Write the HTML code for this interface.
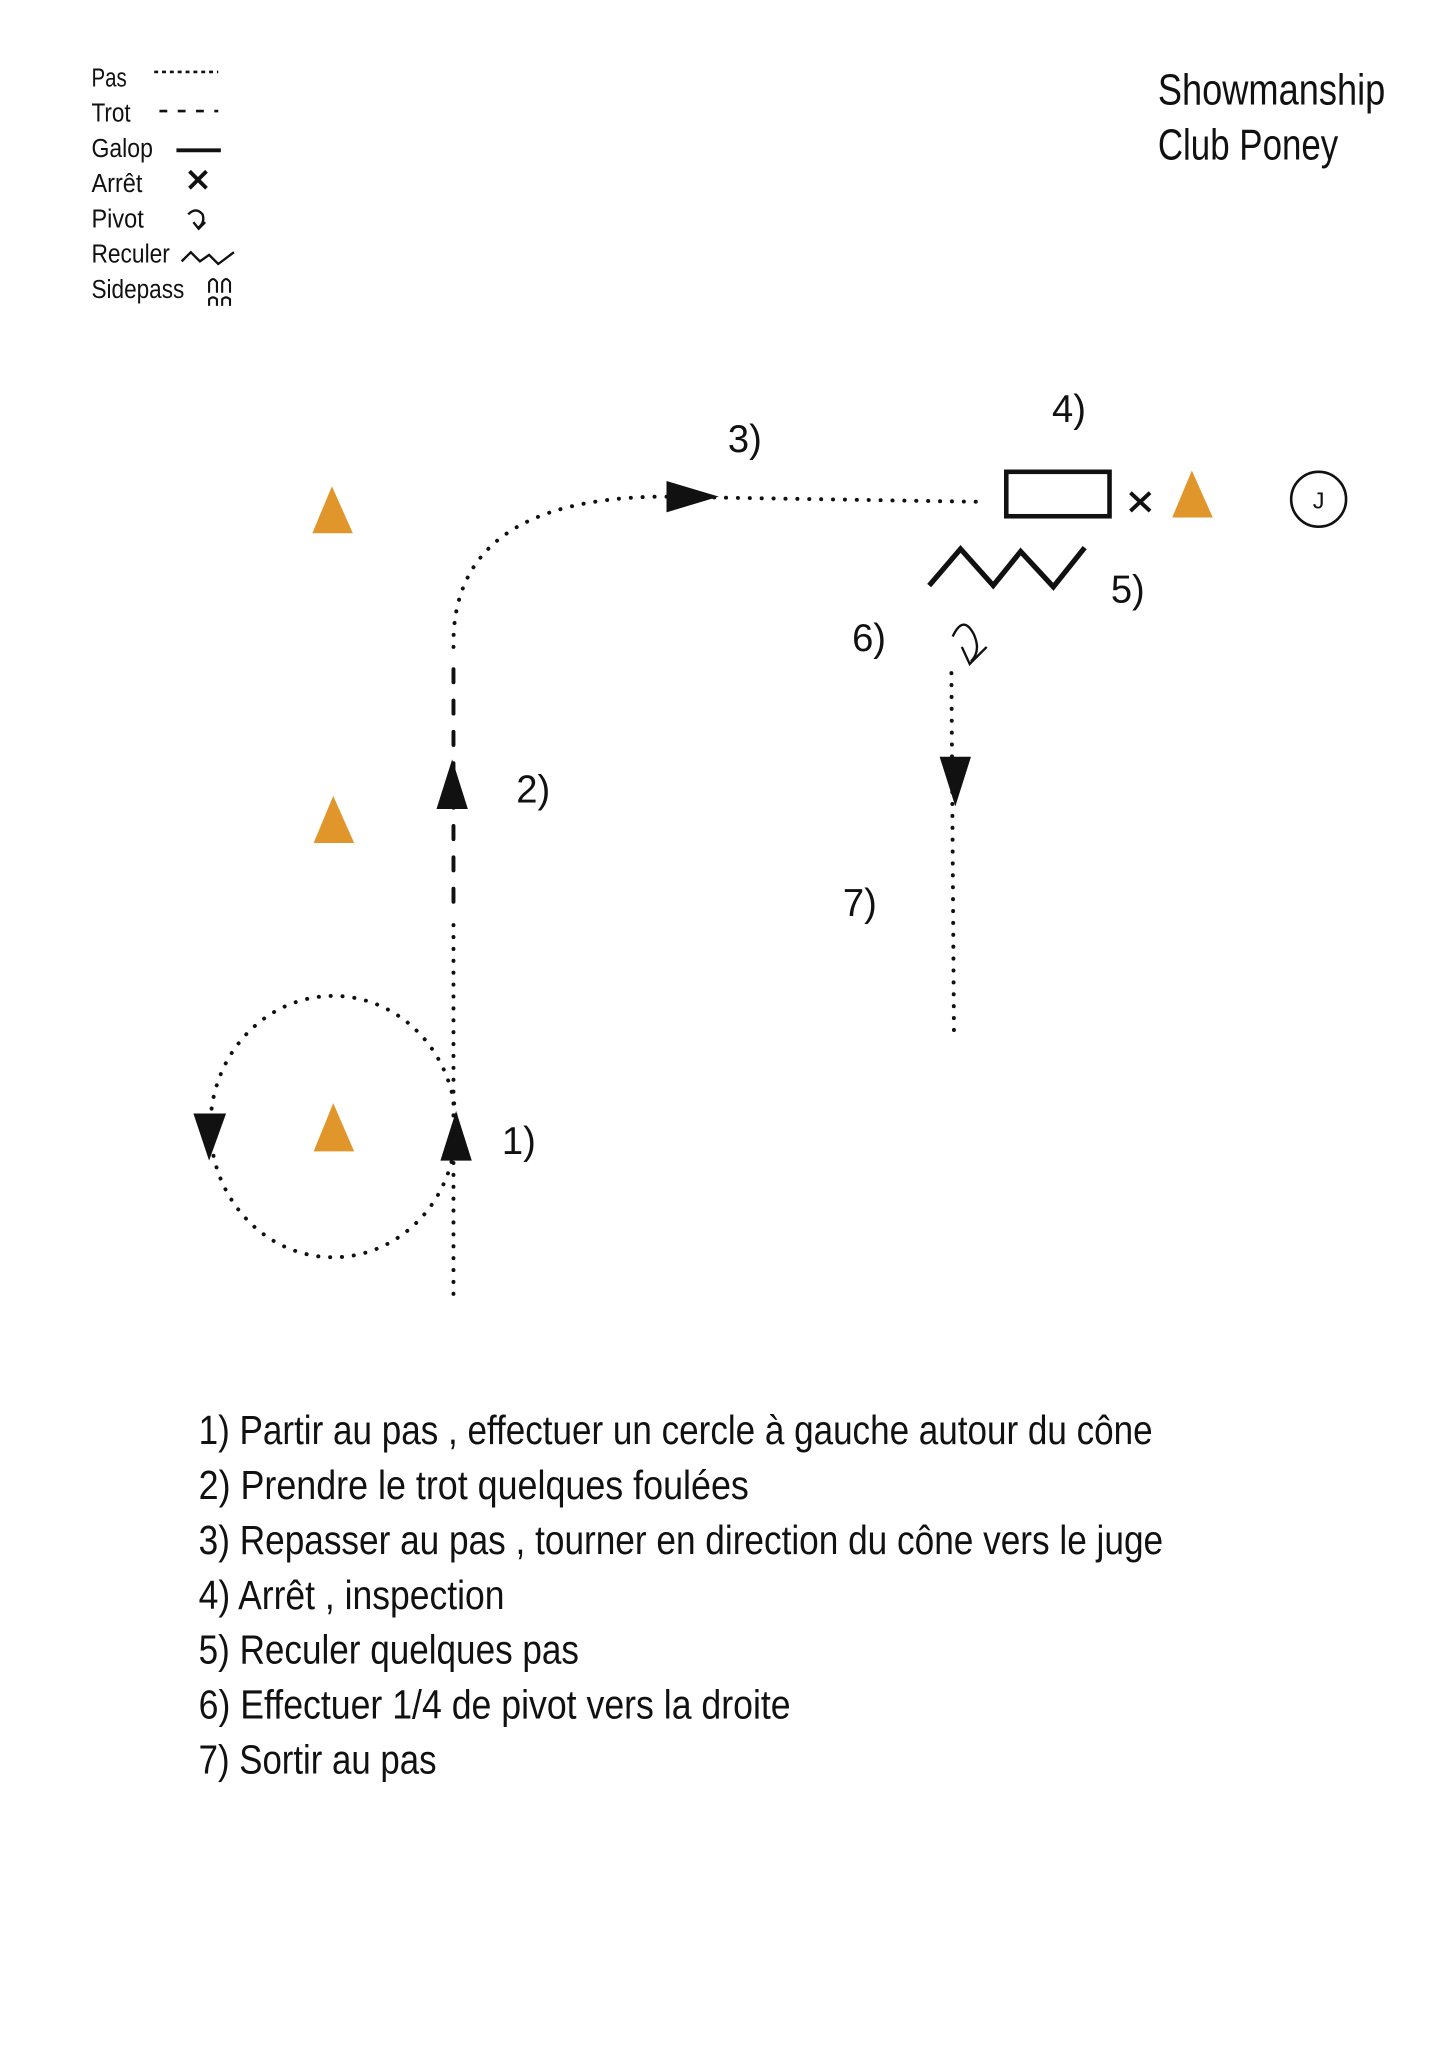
<!DOCTYPE html>
<html><head><meta charset="utf-8"><style>
html,body{margin:0;padding:0;background:#fff;}
svg{display:block;}
text{font-family:"Liberation Sans Narrow","Liberation Sans",sans-serif;fill:#111;}
</style></head><body>
<svg width="1448" height="2048" viewBox="0 0 1108 1567" preserveAspectRatio="none" xmlns="http://www.w3.org/2000/svg">
<rect width="1108" height="1567" fill="#fff"/>
<!-- Legend -->
<g font-size="20">
<text x="70" y="66" textLength="27" lengthAdjust="spacingAndGlyphs">Pas</text>
<text x="70" y="93" textLength="30" lengthAdjust="spacingAndGlyphs">Trot</text>
<text x="70" y="120" textLength="47" lengthAdjust="spacingAndGlyphs">Galop</text>
<text x="70" y="147" textLength="39" lengthAdjust="spacingAndGlyphs">Arrêt</text>
<text x="70" y="174" textLength="40" lengthAdjust="spacingAndGlyphs">Pivot</text>
<text x="70" y="201" textLength="60" lengthAdjust="spacingAndGlyphs">Reculer</text>
<text x="70" y="228" textLength="71" lengthAdjust="spacingAndGlyphs">Sidepass</text>
</g>
<line x1="118" y1="55" x2="167" y2="55" stroke="#111" stroke-width="2" stroke-dasharray="3,3"/>
<line x1="122" y1="85" x2="167" y2="85" stroke="#111" stroke-width="2" stroke-dasharray="6,8"/>
<line x1="135" y1="115" x2="169" y2="115" stroke="#111" stroke-width="3"/>
<path d="M145 131 L158 144 M158 131 L145 144" stroke="#111" stroke-width="3"/>
<path d="M144 164 Q150 158 155 164 Q157 170 152 174 M148 170 L152 175 L157 170" stroke="#111" stroke-width="1.8" fill="none"/>
<path d="M139 200 L146 193 L153 200 L160 195 L167 202 L179 193" stroke="#111" stroke-width="1.8" fill="none"/>
<path d="M160 224 L160 216 Q163 211 166 216 L166 224 M170 224 L170 216 Q173 211 176 216 L176 224 M160 234 L160 229 Q163 226 166 229 L166 234 M170 234 L170 229 Q173 226 176 229 L176 234" stroke="#111" stroke-width="1.6" fill="none"/>
<!-- Title -->
<text x="886" y="80" font-size="33" textLength="174" lengthAdjust="spacingAndGlyphs">Showmanship</text>
<text x="886" y="122" font-size="33" textLength="138" lengthAdjust="spacingAndGlyphs">Club Poney</text>
<!-- Cones -->
<g fill="#E0962A">
<polygon points="254,372 239,408 270,408"/>
<polygon points="255,609 240,645 271,645"/>
<polygon points="255,844 240,881 271,881"/>
<polygon points="912,360 897,396 928,396"/>
</g>
<!-- J -->
<circle cx="1009" cy="382" r="21" fill="none" stroke="#111" stroke-width="2"/>
<text x="1009" y="389" font-size="18" text-anchor="middle">J</text>
<!-- rectangle, X -->
<rect x="770" y="361" width="79" height="34" fill="none" stroke="#111" stroke-width="3.5"/>
<path d="M865 377 L880 391 M880 377 L865 391" stroke="#111" stroke-width="3"/>
<!-- zigzag -->
<path d="M711 448 L735 420 L760 448 L781 422 L806 449 L830 419" stroke="#111" stroke-width="4" fill="none"/>
<!-- paths -->
<g stroke="#111" stroke-width="3" fill="none" stroke-linecap="round">
<line x1="347" y1="990" x2="347" y2="700" stroke-dasharray="0.1,9"/>
<line x1="347" y1="690" x2="347" y2="505" stroke-dasharray="10,14"/>
<path d="M347 495 Q345 382 505 380 L752 384" stroke-dasharray="0.1,9"/>
<ellipse cx="255" cy="862" rx="94" ry="100" stroke-dasharray="0.1,9"/>
<line x1="728" y1="515" x2="730" y2="795" stroke-dasharray="0.1,9"/>
</g>
<g fill="#111">
<polygon points="349,850 337,888 361,888"/>
<polygon points="346,581 334,619 358,619"/>
<polygon points="160,888 148,852 173,852"/>
<polygon points="550,380 510,368 510,392"/>
<polygon points="731,617 719,579 743,579"/>
</g>
<path d="M729 487 Q737 470 745 485 Q751 498 743 506 M736 495 L742 508 L755 495" stroke="#111" stroke-width="1.8" fill="none"/>
<!-- step labels -->
<g font-size="30">
<text x="557" y="346" textLength="26" lengthAdjust="spacingAndGlyphs">3)</text>
<text x="805" y="323" textLength="26" lengthAdjust="spacingAndGlyphs">4)</text>
<text x="850" y="461" textLength="26" lengthAdjust="spacingAndGlyphs">5)</text>
<text x="652" y="498" textLength="26" lengthAdjust="spacingAndGlyphs">6)</text>
<text x="395" y="614" textLength="26" lengthAdjust="spacingAndGlyphs">2)</text>
<text x="645" y="701" textLength="26" lengthAdjust="spacingAndGlyphs">7)</text>
<text x="384" y="883" textLength="26" lengthAdjust="spacingAndGlyphs">1)</text>
</g>
<!-- instructions -->
<g font-size="31">
<text x="152" y="1105" textLength="730" lengthAdjust="spacingAndGlyphs">1) Partir au pas , effectuer un cercle à gauche autour du cône</text>
<text x="152" y="1147" textLength="421" lengthAdjust="spacingAndGlyphs">2) Prendre le trot quelques foulées</text>
<text x="152" y="1189" textLength="738" lengthAdjust="spacingAndGlyphs">3) Repasser au pas , tourner en direction du cône vers le juge</text>
<text x="152" y="1231" textLength="234" lengthAdjust="spacingAndGlyphs">4) Arrêt , inspection</text>
<text x="152" y="1273" textLength="291" lengthAdjust="spacingAndGlyphs">5) Reculer quelques pas</text>
<text x="152" y="1315" textLength="453" lengthAdjust="spacingAndGlyphs">6) Effectuer 1/4 de pivot vers la droite</text>
<text x="152" y="1357" textLength="182" lengthAdjust="spacingAndGlyphs">7) Sortir au pas</text>
</g>
</svg>
</body></html>
